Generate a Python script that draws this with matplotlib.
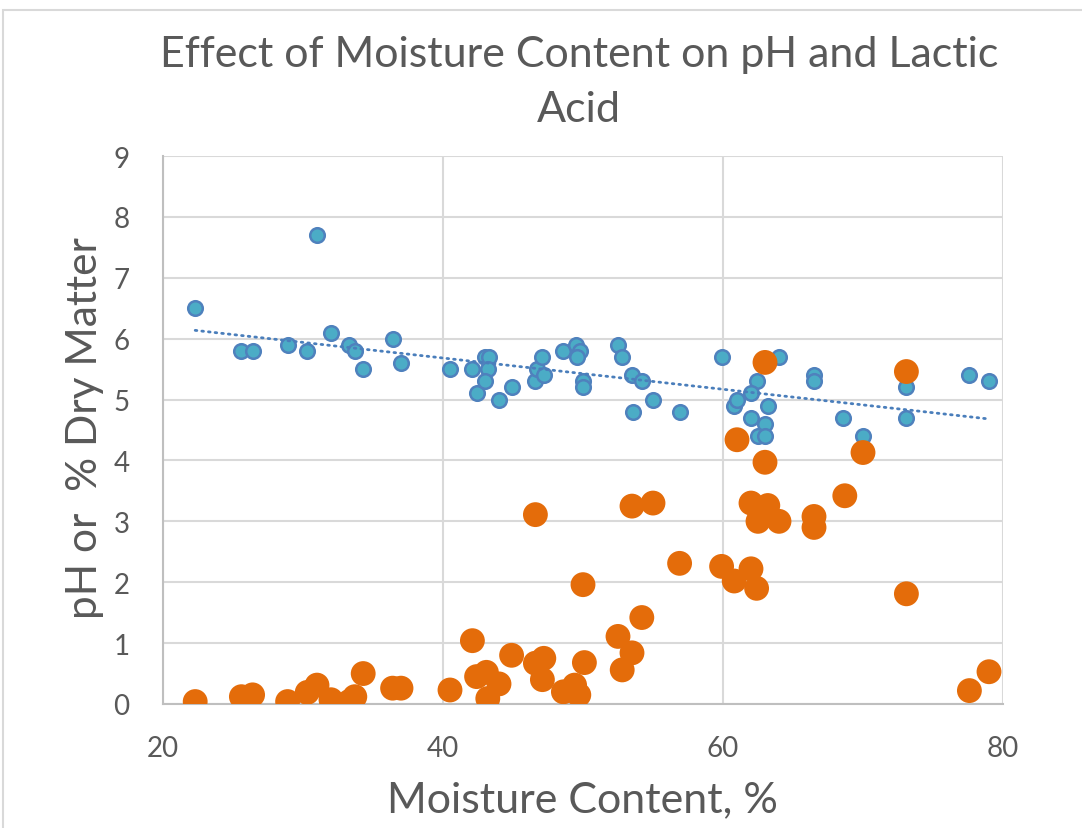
import numpy as np
import matplotlib
matplotlib.use("Agg")
import matplotlib.pyplot as plt
from matplotlib.patches import Rectangle

# pH data (moisture %, pH)
ph_moisture = [22.3, 25.6, 26.4, 28.9, 30.3, 31.0, 32.0, 33.3, 33.7, 34.3, 36.4, 37.0,
               40.5, 42.1, 42.4, 43.0, 43.3, 43.2, 43.0, 44.0, 44.9, 46.6, 46.7, 47.1,
               47.2, 48.6, 49.5, 49.8, 49.6, 50.0, 50.0, 52.5, 52.8, 53.5, 53.6, 54.2,
               55.0, 56.9, 59.9, 60.8, 61.0, 64.0, 62.4, 62.0, 63.2, 62.0, 63.0, 62.5,
               63.0, 66.5, 66.5, 68.6, 70.0, 73.1, 73.1, 77.6, 79.0]
ph_values = [6.5, 5.8, 5.8, 5.9, 5.8, 7.7, 6.1, 5.9, 5.8, 5.5, 6.0, 5.6,
             5.5, 5.5, 5.1, 5.7, 5.7, 5.5, 5.3, 5.0, 5.2, 5.3, 5.5, 5.7,
             5.4, 5.8, 5.9, 5.8, 5.7, 5.3, 5.2, 5.9, 5.7, 5.4, 4.8, 5.3,
             5.0, 4.8, 5.7, 4.9, 5.0, 5.7, 5.3, 5.1, 4.9, 4.7, 4.6, 4.4,
             4.4, 5.4, 5.3, 4.7, 4.4, 5.2, 4.7, 5.4, 5.3]

# Lactic acid data (moisture %, % dry matter)
la_moisture = [22.3, 25.6, 26.4, 28.9, 30.3, 31.0, 32.0, 33.3, 33.7, 34.3, 36.4, 37.0,
               40.5, 42.1, 42.4, 43.1, 44.0, 43.2, 44.9, 46.6, 47.2, 47.1, 48.6, 49.4,
               49.7, 50.1, 52.5, 53.5, 52.8, 54.2, 46.6, 53.5, 55.0, 50.0, 56.9, 59.9,
               60.8, 62.0, 62.4, 62.0, 63.2, 62.5, 64.0, 66.5, 66.5, 63.0, 61.0, 63.0,
               70.0, 68.7, 73.1, 73.1, 77.6, 79.0]
la_values = [0.04, 0.12, 0.15, 0.04, 0.19, 0.31, 0.07, 0.04, 0.12, 0.50, 0.26, 0.26,
             0.23, 1.04, 0.45, 0.52, 0.33, 0.09, 0.80, 0.67, 0.75, 0.40, 0.20, 0.31,
             0.15, 0.68, 1.11, 0.84, 0.56, 1.42, 3.11, 3.25, 3.30, 1.96, 2.31, 2.26,
             2.02, 2.22, 1.90, 3.30, 3.26, 3.00, 3.00, 3.08, 2.90, 5.61, 4.34, 3.97,
             4.13, 3.42, 5.46, 1.81, 0.22, 0.53]

x_ticks = [20, 40, 60, 80]
y_ticks = list(range(0, 10))

title_text = "Effect of Moisture Content on pH and Lactic\nAcid"
x_label = "Moisture Content, %"
y_label = "pH or  % Dry Matter"

FONT = "Lato"
GRAY = "#595959"
W, H = 1082, 829

fig = plt.figure(figsize=(W / 100, H / 100), dpi=100)

# chart area border (Excel-like)
fig.patches.append(Rectangle((3 / W, -0.1), 1.2, 1 - 11 / H + 0.1, transform=fig.transFigure,
                             fill=False, edgecolor="#d9d9d9", linewidth=1.5))

ax = fig.add_axes([163 / W, 1 - 705 / H, (1003 - 163) / W, (705 - 157) / H])

ax.set_xlim(20, 80)
ax.set_ylim(0, 9)
ax.set_xticks(x_ticks)
ax.set_yticks(y_ticks)
ax.grid(True, color="#d9d9d9", linewidth=1.5)
ax.set_axisbelow(True)
for s in ["top", "right"]:
    ax.spines[s].set_visible(False)
for s in ["left", "bottom"]:
    ax.spines[s].set_color("#bfbfbf")
    ax.spines[s].set_linewidth(1.5)
ax.tick_params(length=0, labelsize=20, labelcolor=GRAY)
ax.tick_params(axis="x", pad=22)
ax.tick_params(axis="y", pad=24)
for lbl in ax.get_xticklabels() + ax.get_yticklabels():
    lbl.set_fontfamily(FONT)

ax.scatter(ph_moisture, ph_values, s=110, color="#4bacc6", edgecolor="#4f81bd",
           linewidth=1.8, zorder=3)

# linear trendline for pH
coef = np.polyfit(ph_moisture, ph_values, 1)
xt = np.array([min(ph_moisture), max(ph_moisture)])
ax.plot(xt, np.polyval(coef, xt), color="#4a7ebb", linewidth=2.0,
        linestyle=(0, (0.6, 1.8)), dash_capstyle="round", zorder=4)

ax.scatter(la_moisture, la_values, s=320, color="#e46c0a", edgecolor="none", zorder=5)

t_lines = title_text.split("\n")
fig.text(579 / W, 1 - 55 / H, t_lines[0], ha="center", va="center", fontsize=31,
         color=GRAY, family=FONT)
fig.text(579 / W, 1 - 110 / H, t_lines[1], ha="center", va="center", fontsize=31,
         color=GRAY, family=FONT)
fig.text(582 / W, 1 - 800 / H, x_label, ha="center", va="center", fontsize=31,
         color=GRAY, family=FONT)
fig.text(85 / W, 1 - 428 / H, y_label, ha="center", va="center", rotation=90,
         fontsize=30.5, color=GRAY, family=FONT)

fig.savefig("out.png", dpi=100)
